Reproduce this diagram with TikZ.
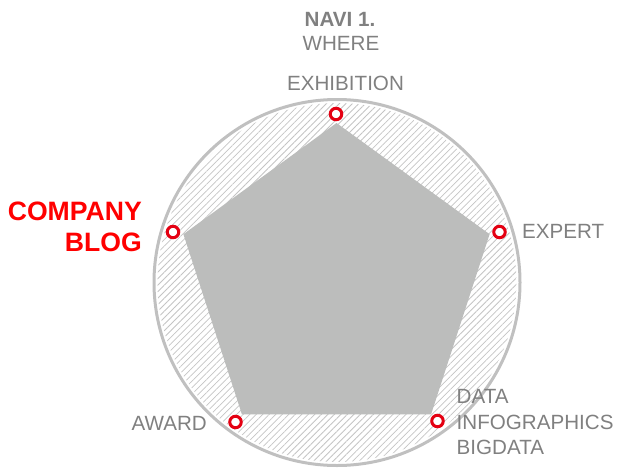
\documentclass[tikz,border=0pt]{standalone}
\usepackage{fontspec}
\setmainfont{Liberation Sans}
\usetikzlibrary{patterns.meta}
\definecolor{lblgray}{RGB}{128,128,128}
\definecolor{ringgray}{RGB}{192,192,192}
\definecolor{polygray}{RGB}{188,189,188}
\definecolor{hatchgray}{RGB}{196,196,196}
\definecolor{markred}{RGB}{228,0,18}
\definecolor{hotred}{RGB}{255,0,0}
\begin{document}
\begin{tikzpicture}[x=1pt,y=-1pt,
  lbl/.style={text=lblgray, font=\fontsize{20.6}{24}\selectfont, inner sep=0pt},
  hotlbl/.style={text=hotred, font=\fontsize{26.6}{31}\selectfont\bfseries, inner sep=0pt, anchor=base east},
  marker/.style={circle, draw=markred, line width=3pt, fill=white, minimum size=11.5pt, inner sep=0pt}]
\useasboundingbox (0,0) rectangle (618,469);
\coordinate (c) at (337,282.5);
% hatched disc and outline
\pattern[pattern={Lines[angle=45,distance=4.6pt,line width=0.75pt]}, pattern color=hatchgray] (c) circle (179.5);
\draw[ringgray, line width=3pt] (c) circle (183);
% polygon
\coordinate (p1) at (336.5,123);
\coordinate (p2) at (489.6,234.2);
\coordinate (p3) at (431.1,414.3);
\coordinate (p4) at (241.9,414.3);
\coordinate (p5) at (183.4,234.2);
\fill[polygray] (p1) -- (p2) -- (p3) -- (p4) -- (p5) -- cycle;
% markers
\node[marker] (m1) at (336,114) {};
\node[marker] (m2) at (499.5,232) {};
\node[marker] (m3) at (437.5,421) {};
\node[marker] (m4) at (235.5,422) {};
\node[marker] (m5) at (173,232) {};
% labels
\node[lbl, font=\fontsize{20.6}{24}\selectfont\bfseries, anchor=base] (navi) at (340,26) {NAVI 1.};
\node[lbl, anchor=base] (where) at (341,50) {WHERE};
\node[lbl, anchor=base] (exh) at (345.5,90.5) {EXHIBITION};
\node[lbl, anchor=base west] (expert) at (522,238) {EXPERT};
\node[lbl, anchor=base east] (award) at (207,430.5) {AWARD};
\node[lbl, anchor=base west] (data1) at (456.5,403.3) {DATA};
\node[lbl, anchor=base west] (data2) at (456.5,429) {INFOGRAPHICS};
\node[lbl, anchor=base west] (data3) at (456.5,454) {BIGDATA};
\node[hotlbl] (comp) at (142,220) {COMPANY};
\node[hotlbl] (blog) at (142,251.5) {BLOG};
\end{tikzpicture}
\end{document}
